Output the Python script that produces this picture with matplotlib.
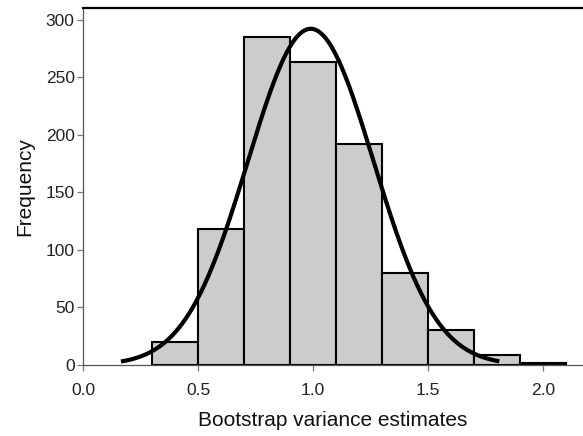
import numpy as np
import matplotlib.pyplot as plt

# histogram of bootstrap variance estimates (bin width 0.2)
bin_edges = [0.3, 0.5, 0.7, 0.9, 1.1, 1.3, 1.5, 1.7, 1.9, 2.1]
counts = [20, 118, 285, 263, 192, 80, 30, 9, 2]

# fitted normal curve parameters
fit_mean = 0.99
fit_sd = 0.273
fit_range = (0.165, 1.81)
n_total = sum(counts)

plt.rcParams['font.family'] = ['Liberation Sans', 'DejaVu Sans']

fig = plt.figure(figsize=(5.83, 4.36), dpi=100)
ax = fig.add_axes([0.1424, 0.1628, 0.8576, 0.8188])

widths = np.diff(bin_edges)
ax.bar(bin_edges[:-1], counts, width=widths, align='edge',
       color='#cccccc', edgecolor='black', linewidth=1.5, zorder=2)

# normal density scaled to counts
bw = widths[0]
xs = np.linspace(fit_range[0], fit_range[1], 300)
ys = n_total * bw / (fit_sd * np.sqrt(2 * np.pi)) * np.exp(-0.5 * ((xs - fit_mean) / fit_sd) ** 2)
ax.plot(xs, ys, color='black', linewidth=3.0, zorder=3, solid_capstyle='butt')

ax.set_xlim(0, 2.174)
ax.set_ylim(0, 310)
ax.set_xticks([0.0, 0.5, 1.0, 1.5, 2.0])
ax.set_xticklabels(['0.0', '0.5', '1.0', '1.5', '2.0'])
ax.set_yticks([0, 50, 100, 150, 200, 250, 300])

ax.spines['right'].set_visible(False)
ax.spines['top'].set_linewidth(1.6)
ax.spines['left'].set_color('#555555')
ax.spines['bottom'].set_color('#555555')
ax.spines['left'].set_linewidth(0.9)
ax.spines['bottom'].set_linewidth(0.9)
ax.tick_params(direction='out', length=4, width=0.9, color='#777777',
               labelsize=12.5, labelcolor='#222222')
ax.tick_params(axis='x', pad=9)
ax.tick_params(axis='y', pad=2)

ax.set_xlabel('Bootstrap variance estimates', fontsize=15, color='#111111', labelpad=9)
ax.set_ylabel('Frequency', fontsize=15, color='#111111', labelpad=8)

fig.savefig('out.png', dpi=100)
